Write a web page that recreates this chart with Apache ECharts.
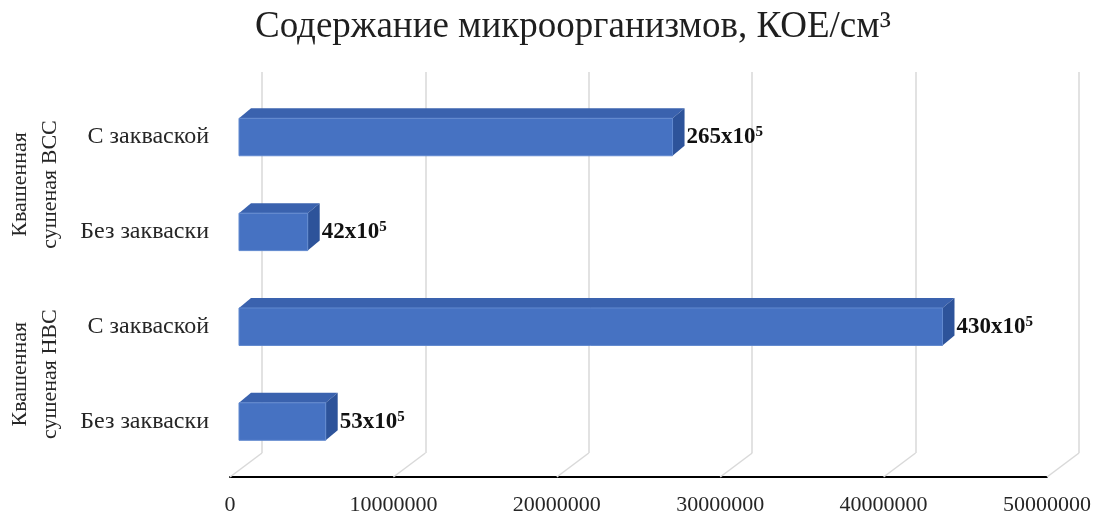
<!DOCTYPE html>
<html>
<head>
<meta charset="utf-8">
<script src="https://cdn.jsdelivr.net/npm/echarts@6/dist/echarts.min.js"></script>
<style>
  html, body { margin: 0; padding: 0; background: #ffffff; }
  #chart { width: 1094px; height: 513px; }
</style>
</head>
<body>
<div id="chart"></div>
<script>
// Chart data (top to bottom)
const titleText = 'Содержание микроорганизмов, КОЕ/см³';
const groups = ['Квашенная\nсушеная ВСС', 'Квашенная\nсушеная НВС'];
const categories = ['С закваской', 'Без закваски', 'С закваской', 'Без закваски'];
const values = [26500000, 4200000, 43000000, 5300000];
const xTicks = [0, 10000000, 20000000, 30000000, 40000000, 50000000];

// Pseudo-3D look
const FONT = '"Liberation Serif", "Times New Roman", serif';
const DEPTH_X = 32, DEPTH_Y = -24;      // floor depth from front edge to back wall
const BAR_DX = 12, BAR_DY = -10;        // bar thickness in depth
const BAR_RATIO = 0.395;                // bar height relative to the band
const FRONT = '#4672C2', TOP = '#3A62AE', SIDE = '#2D539A', EDGE = '#6189CF';

const xMin = xTicks[0], xMax = xTicks[xTicks.length - 1], xStep = xTicks[1] - xTicks[0];

function renderBar(params, api) {
  const v = api.value(0), idx = api.value(1);
  const p0 = api.coord([0, idx]);
  const p1 = api.coord([v, idx]);
  const h = api.size([0, 1])[1] * BAR_RATIO;
  const x = p0[0], y = p0[1] - h / 2, w = p1[0] - p0[0];
  return {
    type: 'group',
    children: [
      { type: 'polygon', shape: { points: [[x, y], [x + BAR_DX, y + BAR_DY], [x + w + BAR_DX, y + BAR_DY], [x + w, y]] },
        style: { fill: TOP } },
      { type: 'polygon', shape: { points: [[x + w, y], [x + w + BAR_DX, y + BAR_DY], [x + w + BAR_DX, y + h + BAR_DY], [x + w, y + h]] },
        style: { fill: SIDE } },
      { type: 'rect', shape: { x: x, y: y, width: w, height: h },
        style: { fill: FRONT, stroke: EDGE, lineWidth: 1 } },
      { type: 'text',
        style: {
          x: x + w + BAR_DX + 2, y: p0[1], align: 'left', verticalAlign: 'middle',
          text: '{m|' + (v / 1e5) + 'x10}{s|5}',
          rich: {
            m: { fontFamily: FONT, fontSize: 23, fontWeight: 'bold', fill: '#111', lineHeight: 24 },
            s: { fontFamily: FONT, fontSize: 15, fontWeight: 'bold', fill: '#111', verticalAlign: 'top', lineHeight: 14 }
          }
        } }
    ]
  };
}

function renderFloorLine(params, api) {
  const p = api.coord([api.value(0), 0]);
  return {
    type: 'line',
    shape: { x1: p[0], y1: p[1], x2: p[0] + DEPTH_X, y2: p[1] + DEPTH_Y },
    style: { stroke: '#d9d9d9', lineWidth: 1.5 }
  };
}

const chart = echarts.init(document.getElementById('chart'), null, { renderer: 'canvas' });

chart.setOption({
  animation: false,
  backgroundColor: '#ffffff',
  title: {
    text: titleText,
    left: 255,
    top: 9,
    padding: 0,
    textStyle: { fontFamily: FONT, fontSize: 37, fontWeight: 'normal', color: '#1f1f1f' }
  },
  grid: [
    { left: 230, right: 47, top: 72, bottom: 36, outerBoundsMode: 'none' },    // front edge of the floor
    { left: 239, right: 37, top: 89.6, bottom: 44, outerBoundsMode: 'none' },  // plane of the bars
    { left: 262, right: 15, top: 72, bottom: 60, outerBoundsMode: 'none' }     // back wall
  ],
  xAxis: [
    { type: 'value', gridIndex: 0, min: xMin, max: xMax, interval: xStep,
      axisLine: { show: true, lineStyle: { color: '#000', width: 2 } },
      axisTick: { show: false }, splitLine: { show: false },
      axisLabel: { fontFamily: FONT, fontSize: 22, color: '#262626', margin: 17,
                   formatter: v => String(v) } },
    { type: 'value', gridIndex: 1, min: xMin, max: xMax, interval: xStep, show: false },
    { type: 'value', gridIndex: 2, min: xMin, max: xMax, interval: xStep,
      axisLine: { show: false }, axisTick: { show: false }, axisLabel: { show: false },
      splitLine: { show: true, lineStyle: { color: '#d9d9d9', width: 1.5 } } }
  ],
  yAxis: [
    { type: 'value', gridIndex: 0, min: 0, max: 1, show: false },
    { type: 'category', gridIndex: 1, data: categories, inverse: true, position: 'left',
      axisLine: { show: false }, axisTick: { show: false }, splitLine: { show: false },
      axisLabel: { fontFamily: FONT, fontSize: 24, color: '#262626', margin: 30 } },
    { type: 'category', gridIndex: 1, data: groups, inverse: true, position: 'left',
      axisLine: { show: false }, axisTick: { show: false }, splitLine: { show: false },
      axisLabel: { fontFamily: FONT, fontSize: 22, color: '#262626', rotate: 90, lineHeight: 30, margin: 174 } },
    { type: 'value', gridIndex: 2, min: 0, max: 1, show: false }
  ],
  series: [
    { type: 'custom', xAxisIndex: 0, yAxisIndex: 0, silent: true,
      data: xTicks.map(t => [t, 0]), renderItem: renderFloorLine, z: 1 },
    { type: 'custom', xAxisIndex: 1, yAxisIndex: 1, silent: true,
      data: values.map((v, i) => [v, i]), renderItem: renderBar, z: 3 }
  ]
});
</script>
</body>
</html>
